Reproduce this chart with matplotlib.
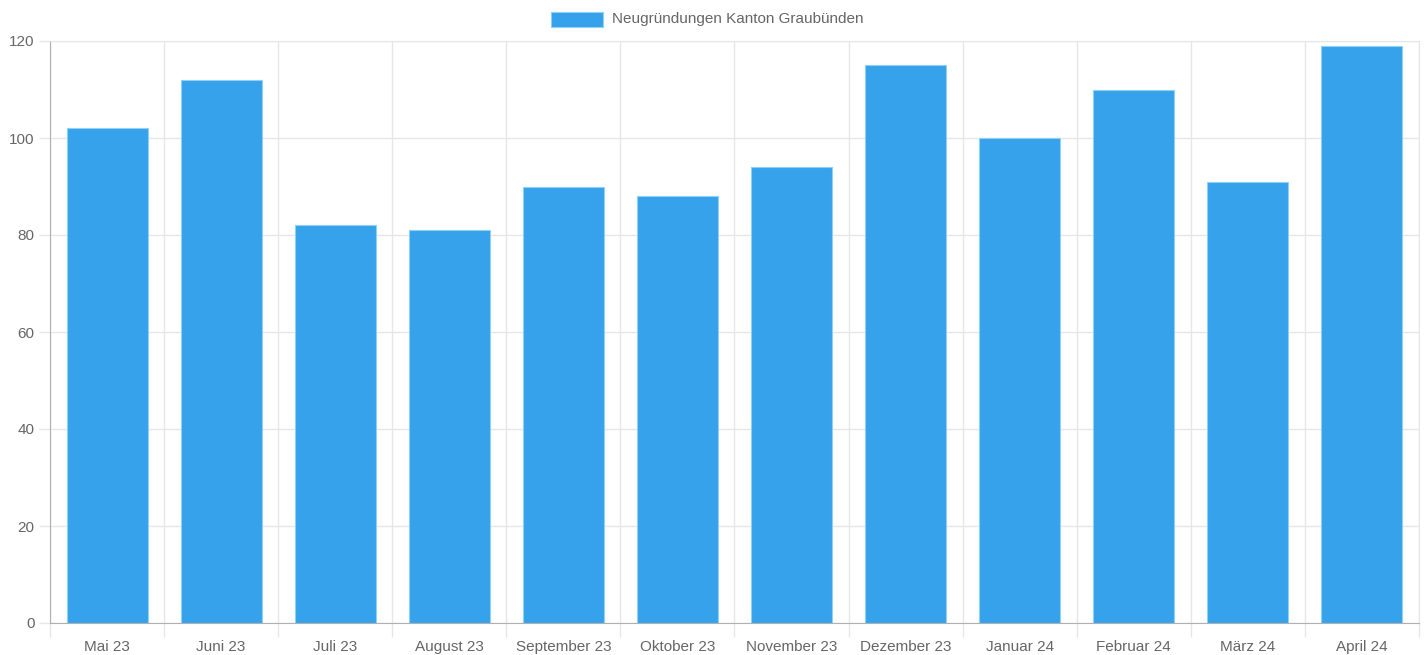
import matplotlib.pyplot as plt
from matplotlib.patches import Rectangle
import numpy as np

plt.rcParams['font.family'] = ['Liberation Sans', 'DejaVu Sans']

months = ["Mai 23", "Juni 23", "Juli 23", "August 23", "September 23", "Oktober 23",
          "November 23", "Dezember 23", "Januar 24", "Februar 24", "März 24", "April 24"]
values = [102, 112, 82, 81, 90, 88, 94, 115, 100, 110, 91, 119]
series_name = "Neugründungen Kanton Graubünden"

bar_color = "#36A2EB"
edge_color = "#8fd0f7"
grid_color = "#e6e6e6"
axis_color = "#b0b0b0"
text_color = "#666666"

fig = plt.figure(figsize=(14.25, 6.55), dpi=100)
ax = fig.add_axes([50 / 1425, 32 / 655, 1369 / 1425, 582 / 655])

x = np.arange(len(months))
ax.bar(x, values, width=0.71, color=bar_color, edgecolor=edge_color, linewidth=0.8, zorder=3)

ax.set_xlim(-0.5, len(months) - 0.5)
ax.set_ylim(0, 120)
ax.set_yticks(range(0, 121, 20))

ax.set_xticks(x)
ax.set_xticklabels(months)
ax.set_xticks(np.arange(-0.5, len(months), 1), minor=True)
ax.tick_params(axis='x', which='major', length=0, pad=12, labelsize=11, labelcolor=text_color)
ax.tick_params(axis='x', which='minor', length=10, color=grid_color, width=1)
ax.tick_params(axis='y', length=8, color=grid_color, width=1, pad=3, labelsize=11, labelcolor=text_color)

ax.grid(True, axis='x', which='minor', color=grid_color, linewidth=1, zorder=0)
ax.grid(True, axis='y', which='major', color=grid_color, linewidth=1, zorder=0)
ax.grid(False, axis='x', which='major')

for side in ['top', 'right']:
    ax.spines[side].set_color(grid_color)
ax.spines['left'].set_color(axis_color)
ax.spines['bottom'].set_color(axis_color)

# legend drawn at the top center like the original
fig.patches.append(Rectangle((551 / 1425, 1 - 27 / 655), 52 / 1425, 15 / 655,
                             transform=fig.transFigure, facecolor=bar_color,
                             edgecolor=edge_color, linewidth=0.8))
fig.text(612 / 1425, 1 - 19.5 / 655, series_name, fontsize=11, color=text_color,
         va='center', ha='left')

fig.savefig("out.png", dpi=100)
